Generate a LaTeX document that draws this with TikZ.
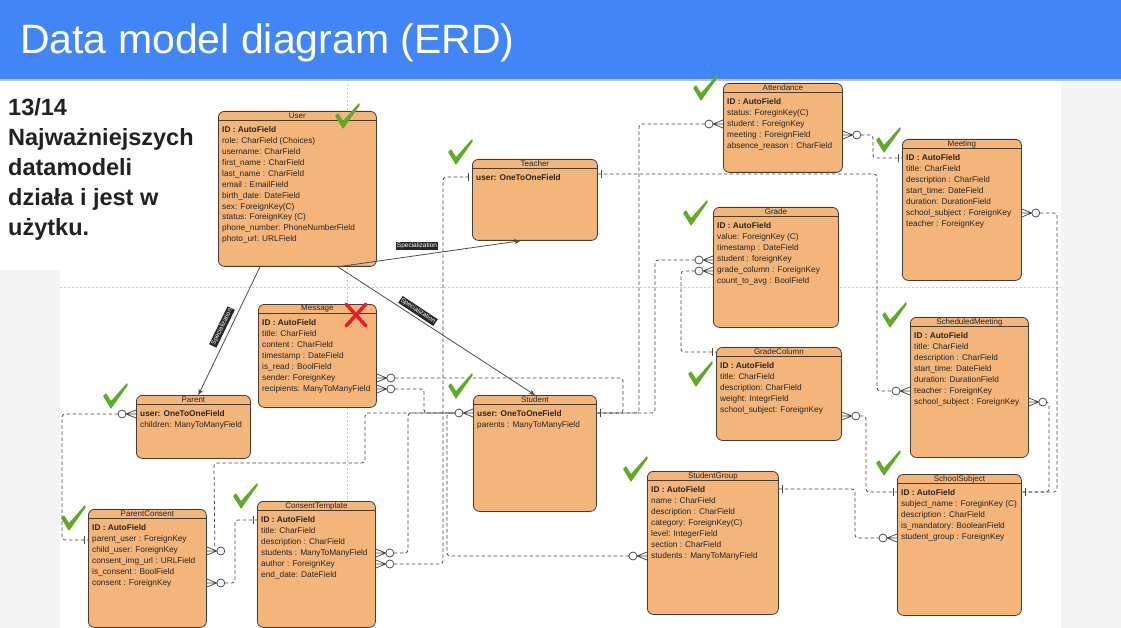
\documentclass[tikz,border=0pt]{standalone}
\usepackage{fontspec}
\setmainfont{Liberation Sans}
\usetikzlibrary{arrows.meta,calc}

\definecolor{slidebg}{RGB}{244,244,244}
\definecolor{titleblue}{RGB}{66,133,244}
\definecolor{entfill}{RGB}{243,181,122}
\definecolor{entdraw}{RGB}{70,60,50}
\definecolor{conn}{RGB}{70,70,70}
\definecolor{chk}{RGB}{96,170,40}
\definecolor{xred}{RGB}{232,30,40}
\definecolor{pagegray}{RGB}{200,200,200}
\definecolor{infotext}{RGB}{33,33,33}

\tikzset{
  entbox/.style={draw=entdraw, fill=entfill, line width=0.8pt, rounded corners=6pt, inner sep=0pt},
  entsep/.style={draw=entdraw, line width=0.8pt},
  enttitle/.style={inner sep=0pt, font=\fontsize{8}{9}\selectfont, text=black!85},
  entfields/.style={inner sep=0pt, align=left, font=\fontsize{8.3}{10.9}\selectfont, text=black!85},
  relline/.style={draw=conn, line width=0.75pt, dash pattern=on 3.5pt off 2.5pt, rounded corners=3pt},
  relmark/.style={draw=conn, line width=0.75pt, solid},
  specarrow/.style={draw=black!70, line width=0.8pt, -{Stealth[length=6pt,width=5pt]}},
  speclabel/.style={fill=black!85, text=white, inner sep=1pt, font=\fontsize{6.5}{7}\selectfont},
  pageline/.style={draw=pagegray, line width=0.5pt, dash pattern=on 2pt off 2pt},
}

\newcommand{\erent}[7]{%
  \node[entbox, minimum width=#4pt, minimum height=#5pt, anchor=north west] (#1) at (#2,#3) {};
  \draw[entsep] ([yshift=-9.5pt]#1.north west) -- ([yshift=-9.5pt]#1.north east);
  \node[enttitle] (#1-t) at ([yshift=-5pt]#1.north) {#6};
  \node[entfields, anchor=north west] (#1-f) at ([shift={(4pt,-15.5pt)}]#1.north west) {#7};
}
\newcommand{\zmR}[1]{%
  \draw[relmark] ([xshift=10pt]#1) -- ([yshift=4pt]#1) ([xshift=10pt]#1) -- (#1) ([xshift=10pt]#1) -- ([yshift=-4pt]#1);
  \draw[relmark, fill=white] ([xshift=14pt]#1) circle[radius=4pt];}
\newcommand{\zmL}[1]{%
  \draw[relmark] ([xshift=-10pt]#1) -- ([yshift=4pt]#1) ([xshift=-10pt]#1) -- (#1) ([xshift=-10pt]#1) -- ([yshift=-4pt]#1);
  \draw[relmark, fill=white] ([xshift=-14pt]#1) circle[radius=4pt];}
\newcommand{\oneR}[1]{\draw[relmark] ([shift={(4pt,4pt)}]#1) -- ([shift={(4pt,-4pt)}]#1);}
\newcommand{\oneL}[1]{\draw[relmark] ([shift={(-4pt,4pt)}]#1) -- ([shift={(-4pt,-4pt)}]#1);}
\newcommand{\okmark}[2]{%
  \begin{scope}[shift={(#1,#2)}]
    \fill[chk, rounded corners=0.6pt] (-12,-1) -- (-9,-4) -- (-4,4) -- (12,-14) -- (13,-12) -- (-4,12) -- cycle;
  \end{scope}}
\newcommand{\nomark}[2]{%
  \begin{scope}[shift={(#1,#2)}]
    \draw[xred, line width=3.5pt, line cap=round] (-10,-11) -- (10,11) (10,-11) -- (-10,11);
  \end{scope}}

\begin{document}
\begin{tikzpicture}[x=1pt,y=-1pt]
\useasboundingbox (0,0) rectangle (1121,628);
% backgrounds
\fill[slidebg] (0,0) rectangle (1121,628);
\fill[white] (60,80) rectangle (1061,628);
\fill[white] (0,80) rectangle (216,270);
\fill[titleblue] (0,0) rectangle (1121,79);
\fill[black!25] (0,79) rectangle (1121,81);
\node[anchor=base west, text=white, inner sep=0pt, font=\fontsize{41}{41}\selectfont] (title) at (20,54) {Data model diagram (ERD)};
\node[anchor=north west, align=left, inner sep=0pt, text=infotext, font=\bfseries\fontsize{23.5}{30}\selectfont] (info) at (8,98) {13/14\\Najważniejszych\\datamodeli\\działa i jest w\\użytku.};

% page break lines
\draw[pageline] (347,84) -- (347,628);
\draw[pageline] (60,287) -- (1061,287);

% entities
\erent{User}{218}{111}{158}{155}{User}{\textbf{ID : AutoField}\\role: CharField (Choices)\\username: CharField\\first\_name : CharField\\last\_name : CharField\\email : EmailField\\birth\_date: DateField\\sex: ForeignKey(C)\\status: ForeignKey (C)\\phone\_number: PhoneNumberField\\photo\_url: URLField}
\erent{Teacher}{472}{159}{125}{81}{Teacher}{\textbf{user: OneToOneField}}
\erent{Attendance}{723}{83}{119}{89}{Attendance}{\textbf{ID : AutoField}\\status: ForeginKey(C)\\student : ForeignKey\\meeting : ForeignField\\absence\_reason : CharField}
\erent{Meeting}{902}{139}{119}{141}{Meeting}{\textbf{ID : AutoField}\\title: CharField\\description : CharField\\start\_time: DateField\\duration: DurationField\\school\_subject : ForeignKey\\teacher : ForeignKey}
\erent{Grade}{713}{207}{125}{120}{Grade}{\textbf{ID : AutoField}\\value: ForeignKey (C)\\timestamp : DateField\\student : foreignKey\\grade\_column : ForeignKey\\count\_to\_avg : BoolField}
\erent{GradeColumn}{716}{347}{125}{93}{GradeColumn}{\textbf{ID : AutoField}\\title: CharField\\description: CharField\\weight: IntegrField\\school\_subject: ForeignKey}
\erent{ScheduledMeeting}{910}{317}{118}{140}{ScheduledMeeting}{\textbf{ID : AutoField}\\title: CharField\\description : CharField\\start\_time: DateField\\duration: DurationField\\teacher : ForeignKey\\school\_subject : ForeignKey}
\erent{SchoolSubject}{897}{474}{124}{141}{SchoolSubject}{\textbf{ID : AutoField}\\subject\_name : ForeginKey (C)\\description : CharField\\is\_mandatory: BooleanField\\student\_group : ForeignKey}
\erent{Message}{258}{304}{118}{103}{Message}{\textbf{ID : AutoField}\\title: CharField\\content : CharField\\timestamp : DateField\\is\_read : BoolField\\sender: ForeignKey\\recipients: ManyToManyField}
\erent{Parent}{136}{395}{114}{63}{Parent}{\textbf{user: OneToOneField}\\children: ManyToManyField}
\erent{Student}{473}{395}{123}{116}{Student}{\textbf{user: OneToOneField}\\parents : ManyToManyField}
\erent{StudentGroup}{647}{471}{131}{143}{StudentGroup}{\textbf{ID : AutoField}\\name : CharField\\description : CharField\\category: ForeignKey(C)\\level: IntegerField\\section : CharField\\students : ManyToManyField}
\erent{ParentConsent}{88}{509}{118}{118}{ParentConsent}{\textbf{ID : AutoField}\\parent\_user : ForeignKey\\child\_user: ForeignKey\\consent\_img\_url : URLField\\is\_consent : BoolField\\consent : ForeignKey}
\erent{ConsentTemplate}{257}{501}{118}{126}{ConsentTemplate}{\textbf{ID : AutoField}\\title: CharField\\description : CharField\\students : ManyToManyField\\author : ForeignKey\\end\_date: DateField}

% attachment points
\coordinate (par-user) at (Parent.west |- 0,414);
\coordinate (pc-puser) at (ParentConsent.west |- 0,540);
\coordinate (pc-child) at (ParentConsent.east |- 0,551);
\coordinate (pc-cons) at (ParentConsent.east |- 0,583);
\coordinate (ct-id) at (ConsentTemplate.west |- 0,520);
\coordinate (ct-stud) at (ConsentTemplate.east |- 0,553);
\coordinate (ct-auth) at (ConsentTemplate.east |- 0,564);
\coordinate (msg-send) at (Message.east |- 0,378);
\coordinate (msg-rec) at (Message.east |- 0,389);
\coordinate (st-l) at (Student.west |- 0,413);
\coordinate (st-r) at (Student.east |- 0,413);
\coordinate (te-l) at (Teacher.west |- 0,177);
\coordinate (te-r) at (Teacher.east |- 0,174);
\coordinate (at-stud) at (Attendance.west |- 0,124);
\coordinate (at-meet) at (Attendance.east |- 0,135);
\coordinate (me-id) at (Meeting.west |- 0,158);
\coordinate (me-subj) at (Meeting.east |- 0,213);
\coordinate (gr-stud) at (Grade.west |- 0,260);
\coordinate (gr-col) at (Grade.west |- 0,271);
\coordinate (gc-id) at (GradeColumn.west |- 0,352);
\coordinate (gc-subj) at (GradeColumn.east |- 0,416);
\coordinate (sm-teach) at (ScheduledMeeting.west |- 0,391);
\coordinate (sm-subj) at (ScheduledMeeting.east |- 0,402);
\coordinate (ss-l) at (SchoolSubject.west |- 0,492);
\coordinate (ss-r) at (SchoolSubject.east |- 0,492);
\coordinate (ss-grp) at (SchoolSubject.west |- 0,538);
\coordinate (sg-r) at (StudentGroup.east |- 0,489);
\coordinate (sg-stud) at (StudentGroup.west |- 0,556);

% relationship lines
\draw[relline] ([xshift=-18pt]par-user) -- (62,414) -- (62,540) -- (pc-puser);
\draw[relline] ([shift={(8pt,5pt)}]pc-child) -- (214,463) -- (365,463) -- (365,413) -- ([xshift=-18pt]st-l);
\draw[relline] ([xshift=18pt]pc-cons) -- (235,583) -- (235,520) -- (ct-id);
\draw[relline] ([xshift=18pt]ct-stud) -- (408,553) -- (408,413) -- ([xshift=-18pt]st-l);
\draw[relline] ([xshift=18pt]ct-auth) -- (443,564) -- (443,177) -- (te-l);
\draw[relline] ([xshift=18pt]msg-send) -- (623,378) -- (623,413) -- (st-r);
\draw[relline] ([xshift=18pt]msg-rec) -- (424,389) -- (424,413) -- ([xshift=-18pt]st-l);
\draw[relline] ([xshift=-18pt]sg-stud) -- (447,556) -- (447,413) -- ([xshift=-18pt]st-l);
\draw[relline] ([xshift=-18pt]at-stud) -- (639,124) -- (639,413) -- (st-r);
\draw[relline] ([xshift=-18pt]gr-stud) -- (655,260) -- (655,413) -- (st-r);
\draw[relline] ([xshift=-18pt]gr-col) -- (681,271) -- (681,352) -- (gc-id);
\draw[relline] ([xshift=18pt]at-meet) -- (873,135) -- (873,158) -- (me-id);
\draw[relline] (te-r) -- (877,174) -- (877,391) -- ([xshift=-18pt]sm-teach);
\draw[relline] ([xshift=18pt]me-subj) -- (1057,213) -- (1057,492) -- (ss-r);
\draw[relline] ([xshift=18pt]sm-subj) -- (1049,402) -- (1049,492) -- (ss-r);
\draw[relline] ([xshift=18pt]gc-subj) -- (866,416) -- (866,492) -- (ss-l);
\draw[relline] (sg-r) -- (855,489) -- (855,538) -- ([xshift=-18pt]ss-grp);

% markers
\zmL{par-user} \zmR{pc-child} \zmR{pc-cons} \zmR{ct-stud} \zmR{ct-auth}
\zmR{msg-send} \zmR{msg-rec} \zmL{st-l} \zmL{sg-stud} \zmL{at-stud}
\zmL{gr-stud} \zmL{gr-col} \zmR{at-meet} \zmL{sm-teach} \zmR{me-subj}
\zmR{sm-subj} \zmR{gc-subj} \zmL{ss-grp}
\oneL{pc-puser} \oneL{ct-id} \oneL{te-l} \oneR{st-r} \oneR{te-r}
\oneL{me-id} \oneL{gc-id} \oneR{ss-r} \oneL{ss-l} \oneR{sg-r}

% specialization arrows
\draw[specarrow] ([xshift=-39pt]User.south east) -- ([xshift=-14.5pt]Teacher.south);
\draw[specarrow] ([xshift=-39pt]User.south east) -- (Student.north);
\draw[specarrow] ([xshift=42pt]User.south west) -- ([xshift=5pt]Parent.north);
\node[speclabel] (lab1) at (417,246) {Specialization};
\node[speclabel, rotate=-33.5] (lab2) at (418,311) {Specialization};
\node[speclabel, rotate=64] (lab3) at (222,327) {Specialization};

% check marks
\okmark{347}{117} \okmark{460}{153} \okmark{705}{89} \okmark{888}{141}
\okmark{695}{214} \okmark{700}{375} \okmark{894}{316} \okmark{888}{464}
\okmark{460}{387} \okmark{635}{470} \okmark{115}{397} \okmark{73}{519}
\okmark{245}{497}
\nomark{356}{315}
\end{tikzpicture}
\end{document}
